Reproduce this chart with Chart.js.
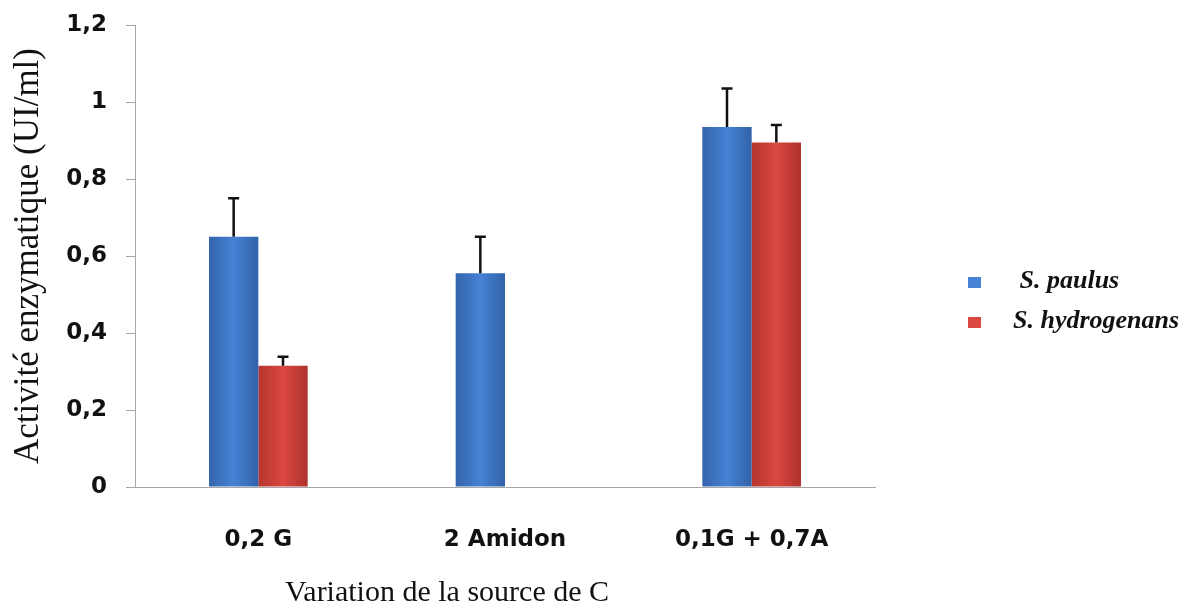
<!DOCTYPE html>
<html lang="fr">
<head>
<meta charset="utf-8">
<title>Activité enzymatique</title>
<script src="https://cdn.jsdelivr.net/npm/chart.js@4.4.1/dist/chart.umd.min.js"></script>
<style>
  html, body { margin: 0; padding: 0; background: #fff; }
  #chart-container { width: 1184px; height: 608px; }
</style>
</head>
<body>
<div id="chart-container"><canvas id="chart" width="1184" height="608"></canvas></div>
<script>
// values
const categories = ['0,2 G', '2 Amidon', '0,1G + 0,7A'];
const seriesNames = [' S. paulus', 'S. hydrogenans'];
const paulus = [0.65, 0.555, 0.935];
const paulusErr = [0.10, 0.095, 0.10];
const hydrogenans = [0.315, null, 0.895];
const hydrogenansErr = [0.023, null, 0.045];
const yTickLabels = ['0', '0,2', '0,4', '0,6', '0,8', '1', '1,2'];

const blueStops = ['#3464ac', '#4682d5', '#3162a9'];
const redStops = ['#b5352f', '#db4741', '#ae322d'];

// shaded bars, like the office-style cylinders of the original
const barShading = {
  id: 'barShading',
  beforeDatasetsDraw(chart) {
    const ctx = chart.ctx;
    chart.data.datasets.forEach((ds, i) => {
      chart.getDatasetMeta(i).data.forEach((bar) => {
        const { x, width } = bar.getProps(['x', 'width'], true);
        if (!isFinite(x) || !width) return;
        const g = ctx.createLinearGradient(x - width / 2, 0, x + width / 2, 0);
        g.addColorStop(0, ds.shade[0]);
        g.addColorStop(0.5, ds.shade[1]);
        g.addColorStop(1, ds.shade[2]);
        bar.options = Object.assign({}, bar.options, { backgroundColor: g });
      });
    });
  }
};

// upward error bars with a cap
const errorBars = {
  id: 'errorBars',
  afterDatasetsDraw(chart) {
    const ctx = chart.ctx;
    const y = chart.scales.y;
    ctx.save();
    ctx.strokeStyle = '#111';
    ctx.lineWidth = 2.5;
    chart.data.datasets.forEach((ds, i) => {
      chart.getDatasetMeta(i).data.forEach((bar, j) => {
        const v = ds.data[j];
        const e = ds.errors[j];
        if (v == null || e == null) return;
        const top = y.getPixelForValue(v + e);
        ctx.beginPath();
        ctx.moveTo(bar.x, bar.y);
        ctx.lineTo(bar.x, top);
        ctx.moveTo(bar.x - 5.5, top);
        ctx.lineTo(bar.x + 5.5, top);
        ctx.stroke();
      });
    });
    ctx.restore();
  }
};

// legend at the right and x title, placed like in the figure
const sideTexts = {
  id: 'sideTexts',
  afterDraw(chart) {
    const ctx = chart.ctx;
    ctx.save();
    chart.data.datasets.forEach((ds, i) => {
      const cy = 282 + i * 40;
      ctx.fillStyle = ds.shade[1];
      ctx.fillRect(968, cy - 5, 13, 11);
      ctx.fillStyle = '#111';
      ctx.font = 'bold italic 26px "Liberation Serif"';
      ctx.textBaseline = 'alphabetic';
      ctx.textAlign = 'left';
      ctx.fillText(ds.label, 1013, cy + 6);
    });
    ctx.font = '30px "Liberation Serif"';
    ctx.textAlign = 'center';
    ctx.fillText('Variation de la source de C', 447, 601);
    ctx.restore();
  }
};

new Chart(document.getElementById('chart').getContext('2d'), {
  type: 'bar',
  data: {
    labels: categories,
    datasets: [
      {
        label: seriesNames[0],
        data: paulus,
        errors: paulusErr,
        shade: blueStops,
        backgroundColor: blueStops[1],
        borderWidth: 0,
        categoryPercentage: 0.4,
        barPercentage: 1.0,
      },
      {
        label: seriesNames[1],
        data: hydrogenans,
        errors: hydrogenansErr,
        shade: redStops,
        backgroundColor: redStops[1],
        borderWidth: 0,
        categoryPercentage: 0.4,
        barPercentage: 1.0,
      },
    ],
  },
  options: {
    responsive: false,
    animation: false,
    layout: { padding: { top: 25, right: 309, bottom: 0, left: 0 } },
    plugins: {
      legend: { display: false },
      tooltip: { enabled: false },
    },
    scales: {
      x: {
        afterFit: (s) => { s.height = 121; s.paddingLeft = 0; s.paddingRight = 0; },
        grid: { display: false, drawTicks: false },
        border: { display: true, color: '#a6a6a6', width: 1 },
        ticks: {
          color: '#111',
          padding: 39,
          font: { family: '"DejaVu Sans"', weight: 'bold', size: 23 },
        },
      },
      y: {
        min: 0,
        max: 1.2,
        afterFit: (s) => { s.width = 135; s.paddingTop = 0; s.paddingBottom = 0; },
        grid: { drawOnChartArea: false, drawTicks: true, tickLength: 9, color: '#a6a6a6' },
        border: { display: true, color: '#a6a6a6', width: 1 },
        ticks: {
          stepSize: 0.2,
          color: '#111',
          padding: 19,
          font: { family: '"DejaVu Sans"', weight: 'bold', size: 23 },
          callback: (v, i) => yTickLabels[i],
        },
        title: {
          display: true,
          text: 'Activité enzymatique (UI/ml)',
          color: '#111',
          padding: { top: 8, bottom: 0 },
          font: { family: '"Liberation Serif"', size: 35, weight: 'normal' },
        },
      },
    },
  },
  plugins: [barShading, errorBars, sideTexts],
});
</script>
</body>
</html>
